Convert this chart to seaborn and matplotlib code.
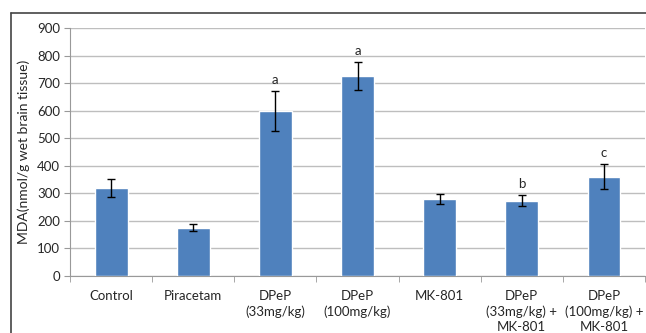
import matplotlib
matplotlib.use("Agg")
import matplotlib.pyplot as plt
from matplotlib.lines import Line2D
import numpy as np
import pandas as pd
import seaborn as sns

# data
groups = ["Control", "Piracetam", "DPeP\n(33mg/kg)", "DPeP\n(100mg/kg)", "MK-801",
          "DPeP\n(33mg/kg) +\nMK-801", "DPeP\n(100mg/kg) +\nMK-801"]
mda = [319, 175, 598, 725, 279, 273, 361]
sem = [33, 12, 73, 50, 17, 20, 45]
letters = ["", "", "a", "a", "", "b", "c"]

sns.set_style("white")
plt.rcParams["font.family"] = ["Lato", "DejaVu Sans"]

df = pd.DataFrame({"group": groups, "mda": mda})

fig = plt.figure(figsize=(6.46, 3.33), dpi=100)
W, H = 646, 333
ax = fig.add_axes([70 / W, (H - 276) / H, 575 / W, (276 - 28) / H])

sns.barplot(data=df, x="group", y="mda", color="#4F81BD", width=0.4,
            saturation=1, ax=ax, zorder=3)
x = np.arange(len(groups))
ax.errorbar(x, mda, yerr=sem, fmt="none", ecolor="black", elinewidth=1,
            capsize=3, capthick=1, zorder=4)
for xi, v, e, s in zip(x, mda, sem, letters):
    if s:
        ax.annotate(s, (xi, v + e), xytext=(0, 4), textcoords="offset points",
                    ha="center", va="bottom", fontsize=9.5)

ax.set_ylim(0, 900)
ax.set_xlim(-0.5, len(groups) - 0.5)
ax.set_yticks(range(0, 901, 100))
ax.yaxis.grid(True, color="#BEBEBE", linewidth=1)
ax.set_axisbelow(True)
for side in ["top", "right"]:
    ax.spines[side].set_visible(False)
for side in ["left", "bottom"]:
    ax.spines[side].set_color("#999999")
ax.tick_params(axis="y", labelsize=9.5, length=4, color="#999999", pad=3, left=True)
ax.set_xticks(x)
ax.set_xticklabels(groups, fontsize=9.5, linespacing=1.3)
ax.tick_params(axis="x", length=0, pad=10)
ax.set_xticks(np.arange(-0.5, len(groups), 1), minor=True)
ax.tick_params(axis="x", which="minor", length=4, color="#999999", bottom=True)
ax.set_xlabel("")
ax.set_ylabel("MDA(nmol/g wet brain tissue)", fontsize=10, labelpad=5)

# outer chart frame (cropped on right and bottom)
fig.add_artist(Line2D([11 / W, 11 / W], [0, 1 - 13 / H], color="#444444", lw=1.2))
fig.add_artist(Line2D([11 / W, 1], [1 - 13 / H, 1 - 13 / H], color="#444444", lw=1.2))

fig.savefig("out.png", dpi=100)
